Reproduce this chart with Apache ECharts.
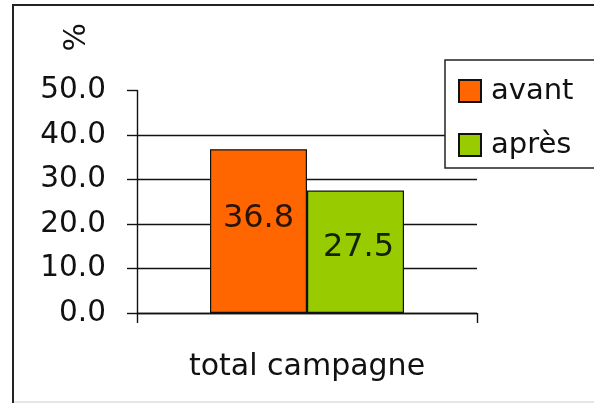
<!DOCTYPE html>
<html>
<head>
<meta charset="utf-8">
<script src="https://cdn.jsdelivr.net/npm/echarts@6/dist/echarts.min.js"></script>
<style>
html,body{margin:0;padding:0;background:#fff;}
#c{width:594px;height:405px;}
</style>
</head>
<body>
<div id="c"></div>
<script>
const categories = ['total campagne'];
const seriesNames = ['avant', 'après'];
const avant = [36.8];
const apres = [27.5];
const yTicks = [0, 10, 20, 30, 40, 50];
const unitLabel = '%';

const FONT = 'DejaVu Sans';
const chart = echarts.init(document.getElementById('c'), null, {renderer: 'canvas'});
chart.setOption({
  backgroundColor: '#fff',
  animation: false,
  textStyle: {fontFamily: FONT},
  grid: {left: 137, right: 117, top: 90.5, bottom: 92, containLabel: false},
  legend: {
    left: 445, top: 60,
    orient: 'vertical',
    backgroundColor: '#fff',
    borderColor: '#222', borderWidth: 1.5,
    padding: [16, 26, 8, 13],
    itemWidth: 22, itemHeight: 22, itemGap: 24,
    icon: 'rect',
    textStyle: {fontFamily: FONT, fontSize: 29, color: '#111', lineHeight: 30, padding: [0, 0, 0, 5]},
    data: seriesNames
  },
  xAxis: {
    type: 'category',
    data: categories,
    axisLine: {lineStyle: {color: '#111', width: 1.4}},
    axisTick: {show: true, length: 10, lineStyle: {color: '#111', width: 1.4}},
    axisLabel: {fontFamily: FONT, fontSize: 30, color: '#111', margin: 39}
  },
  yAxis: {
    type: 'value',
    min: yTicks[0], max: yTicks[yTicks.length - 1], interval: 10,
    axisLine: {show: true, lineStyle: {color: '#111', width: 1.4}},
    axisTick: {show: true, length: 10, lineStyle: {color: '#111', width: 1.4}},
    axisLabel: {fontFamily: FONT, fontSize: 29.5, color: '#111', margin: 31,
      formatter: v => v.toFixed(1)},
    splitLine: {show: true, showMaxLine: false, lineStyle: {color: '#111', width: 1.4}}
  },
  graphic: [
    {type: 'rect', z: -10, silent: true,
     shape: {x: 13, y: 5, width: 620, height: 397},
     style: {fill: 'none', stroke: '#222', lineWidth: 2}},
    {type: 'line', z: -9, silent: true,
     shape: {x1: 14, y1: 402, x2: 594, y2: 402},
     style: {stroke: '#e6e6e6', lineWidth: 2}},
    {type: 'text', left: 62, top: 23, rotation: Math.PI / 2, silent: true,
     style: {text: unitLabel, font: '30px "DejaVu Sans"', fill: '#111'}}
  ],
  series: [
    {name: seriesNames[0], type: 'bar', data: avant, barWidth: 97, barGap: '0%',
     itemStyle: {color: '#FF6600', borderColor: '#111', borderWidth: 1.2},
     label: {show: true, position: 'inside', offset: [0, -12], fontFamily: FONT, fontSize: 32, color: '#2a1408',
       formatter: p => p.value.toFixed(1)}},
    {name: seriesNames[1], type: 'bar', data: apres, barWidth: 97, barGap: '0%',
     itemStyle: {color: '#99CC00', borderColor: '#111', borderWidth: 1.2},
     label: {show: true, position: 'inside', offset: [3, -4], fontFamily: FONT, fontSize: 32, color: '#13220a',
       formatter: p => p.value.toFixed(1)}}
  ]
});
</script>
</body>
</html>
